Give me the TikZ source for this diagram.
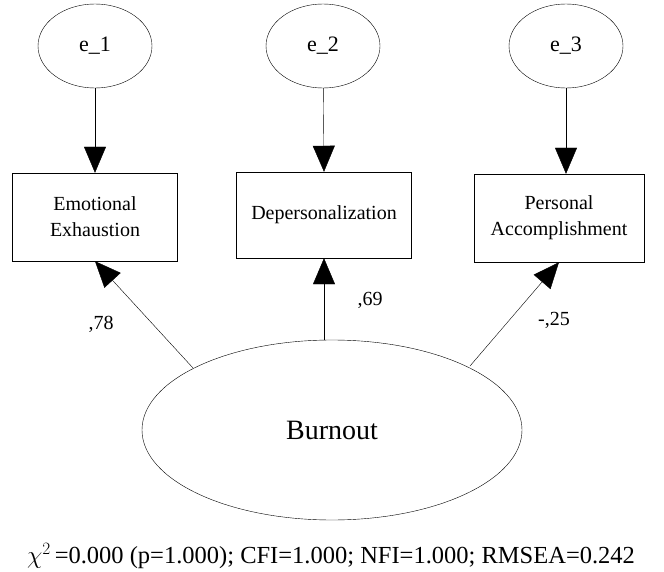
\documentclass[tikz,border=0pt]{standalone}
\usepackage{fontspec}
\setmainfont{Liberation Serif}
\usetikzlibrary{arrows.meta,shapes.geometric}
\begin{document}
\begin{tikzpicture}[x=1pt,y=-1pt,
  err/.style={draw,ellipse,minimum width=114pt,minimum height=84pt,inner sep=0pt,font=\fontsize{22}{26}\selectfont},
  obs/.style={draw,rectangle,minimum height=88pt,align=center,inner sep=0pt,font=\fontsize{20}{26}\selectfont},
  arr/.style={-{Triangle[width=22pt,length=26pt]}},
  lab/.style={font=\fontsize{20}{24}\selectfont}]
\useasboundingbox (0,0) rectangle (664,572);
\node[err] (e1) at (95,46) {e\_1};
\node[err] (e2) at (323,46) {e\_2};
\node[err] (e3) at (566,46) {e\_3};
\node[obs,minimum width=165pt] (EE) at (95,217) {Emotional\\Exhaustion};
\node[obs,minimum width=175pt,minimum height=86pt] (DP) at (324,215) {Depersonalization};
\node[obs,minimum width=170pt] (PA) at (559,218) {Personal\\Accomplishment};
\node[draw,ellipse,minimum width=380pt,minimum height=180pt,inner sep=0pt,font=\fontsize{28}{32}\selectfont] (B) at (332,430) {Burnout};
\draw[arr] (e1) -- (EE.north);
\draw[arr] (e2) -- (DP.north);
\draw[arr] (e3.south) -- (e3.south |- PA.north);
\draw[arr] (193,368) coordinate (b1) -- (EE.south);
\draw[arr] (B.north -| DP.south) -- (DP.south);
\draw[arr] (470,366) coordinate (b3) -- (PA.south);
\node[lab] (l1) at (101,324) {,78};
\node[lab] (l2) at (370,300) {,69};
\node[lab] (l3) at (554,320) {-,25};
\node[font=\fontsize{24.5}{28}\selectfont] (fit) at (331,556) {$\chi^2$\,=0.000 (p=1.000); CFI=1.000; NFI=1.000; RMSEA=0.242};
\end{tikzpicture}
\end{document}
